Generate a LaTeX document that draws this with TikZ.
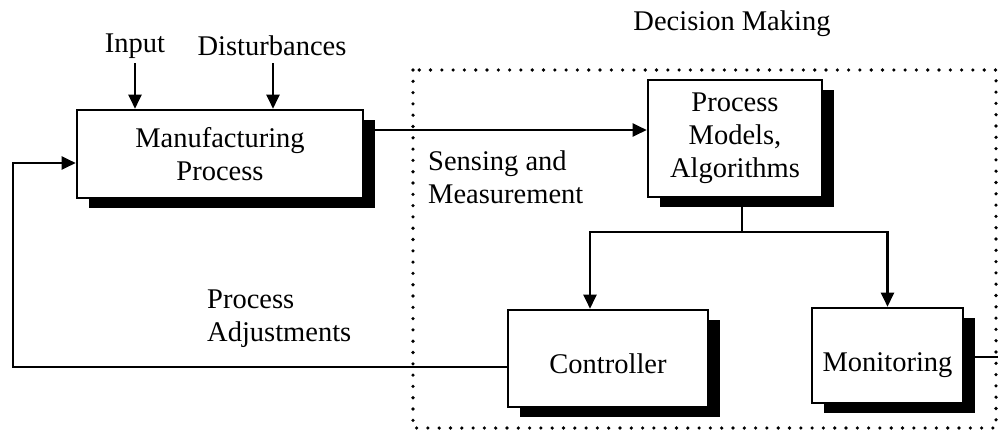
\documentclass[tikz,border=0pt]{standalone}
\usepackage{fontspec}
\setmainfont{Liberation Serif}
\usetikzlibrary{arrows.meta,shadows}
\begin{document}
\begin{tikzpicture}[x=1pt,y=1pt,
  every node/.style={font=\fontsize{28.5}{33}\selectfont, inner sep=0pt},
  blk/.style={draw=black, line width=2.6pt, fill=white, align=center,
    general shadow={fill=black, shadow xshift=12pt, shadow yshift=-10pt}},
  conn/.style={line width=2.2pt},
  arr/.style={conn, -{Triangle[length=14pt,width=13pt]}},
  lbl/.style={align=left, anchor=west}]
\useasboundingbox (0,0) rectangle (998,-432);

% decision-making region
\draw[line width=3.6pt, line cap=round, dash pattern=on 0pt off 11.3pt]
  (413,-70) rectangle (996,-428);
\node (dm) at (732,-24) {Decision Making};

% blocks
\node[blk, minimum width=286pt, minimum height=88pt] (mp) at (220,-154)
  {Manufacturing\\Process};
\node[blk, minimum width=174pt, minimum height=117pt] (pm) at (735,-138.5)
  {Process\\Models,\\Algorithms};
\node[blk, minimum width=200pt, minimum height=97pt] (ctrl) at (608,-358.5)
  {\smash{\raisebox{-14.5pt}{Controller}}};
\node[blk, minimum width=151pt, minimum height=95pt] (mon) at (887.5,-355.5)
  {\smash{\raisebox{-16pt}{Monitoring}}};

% inputs
\node (inp) at (135,-46) {Input};
\node (dist) at (272,-46) {Disturbances};
\draw[arr] (135,-63) coordinate (inpa) -- (inpa |- mp.north);
\draw[arr] (273,-63) coordinate (dista) -- (dista |- mp.north);

% labels
\node[lbl] (sm) at (428,-177) {Sensing and\\Measurement};
\node[lbl] (pa) at (207,-319) {Process\\Adjustments};

% measurement to models
\draw[arr] ([yshift=24pt]mp.east) -- ([yshift=24pt]mp.east -| pm.west);

% models to controller and monitoring
\coordinate (split) at (742,-232);
\draw[conn] (split |- pm.south) -- (split);
\draw[arr] (split) -| ([xshift=-18pt]ctrl.north);
\draw[arr] (split) -| (mon.north);

% feedback loop
\coordinate (fb) at (13,-367);
\draw[arr] (ctrl.west |- fb) -- (fb) |- ([yshift=-9pt]mp.west);

% monitoring output
\coordinate (mout) at (998,-357);
\draw[conn] (mon.east |- mout) -- (mout);
\end{tikzpicture}
\end{document}
